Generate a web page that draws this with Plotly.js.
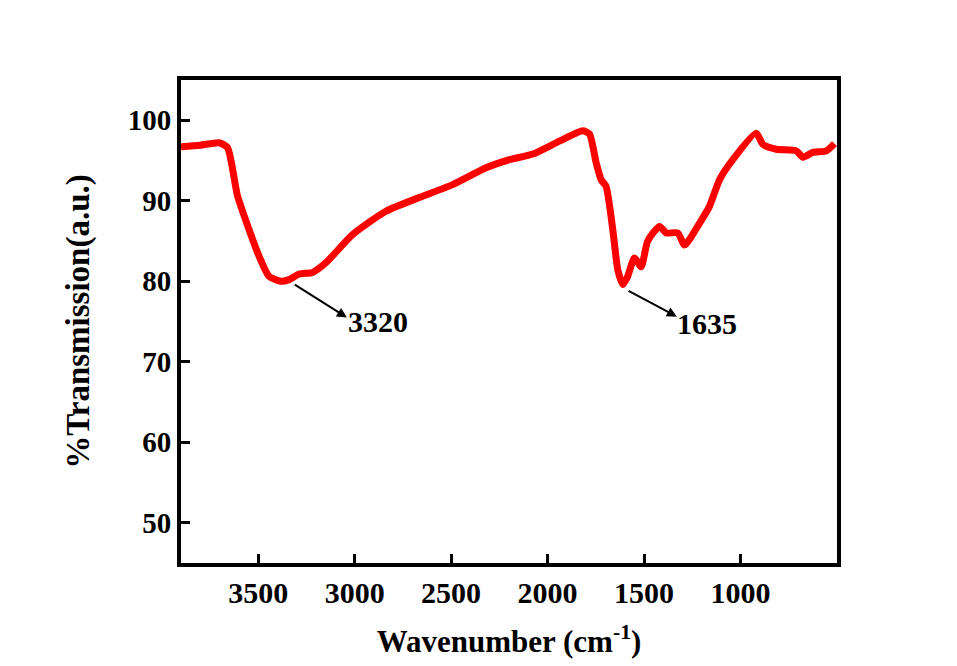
<!DOCTYPE html>
<html><head><meta charset="utf-8">
<script src="https://cdn.plot.ly/plotly-3.0.1.min.js"></script>
<style>html,body{margin:0;padding:0;background:#fff}#chart{width:957px;height:666px}</style>
</head><body><div id="chart"></div>
<script>
const wavenumber = [3900,3800,3702,3659,3607,3547,3495,3443,3382,3339,3287,3218,3149,3011,2838,2665,2492,2319,2198,2077,1939,1818,1783,1748,1722,1697,1662,1636,1610,1585,1550,1515,1481,1420,1385,1325,1290,1213,1161,1109,1040,919,884,815,711,676,625,555,513];
const transmission = [96.7,96.9,97.2,96.6,90.6,86.4,83.1,80.6,80.0,80.2,80.9,81.1,82.3,85.8,88.7,90.4,92.0,94.1,95.1,95.8,97.4,98.7,98.3,94.7,92.6,91.8,86.4,81.4,79.6,80.6,82.9,81.8,85.0,86.8,86.0,86.0,84.5,87.2,89.3,92.6,95.1,98.4,97.0,96.4,96.2,95.4,96.0,96.2,97.1];
const peakLabels = ["3320","1635"];
const peakTail = [[3318,79.7],[1588,78.9]];
const peakHead = [[3040,75.5],[1330,75.6]];
const peakText = [[2880,75.0],[1172,74.8]];
const xTicks = [3500,3000,2500,2000,1500,1000];
const yTicks = [50,60,70,80,90,100];

const font = {family:'"Liberation Serif","Times New Roman",serif', color:'#000'};
const ann = [];
peakLabels.forEach((t,i)=>{
  ann.push({x:peakHead[i][0],y:peakHead[i][1],ax:peakTail[i][0],ay:peakTail[i][1],xref:'x',yref:'y',axref:'x',ayref:'y',text:'',showarrow:true,arrowhead:2,arrowsize:1,arrowwidth:2,arrowcolor:'#000'});
  ann.push({x:peakText[i][0],y:peakText[i][1],xref:'x',yref:'y',text:'<b>'+t+'</b>',showarrow:false,font:Object.assign({size:30},font)});
});

Plotly.newPlot('chart',[{
  x:wavenumber,y:transmission,type:'scatter',mode:'lines',
  line:{color:'#ff0000',width:7,shape:'spline',smoothing:0.6},hoverinfo:'skip'
}],{
  width:957,height:666,
  margin:{l:181,r:120,t:80,b:103},
  paper_bgcolor:'#fff',plot_bgcolor:'#fff',
  showlegend:false,
  xaxis:{range:[3900,500],tickvals:xTicks,ticktext:xTicks.map(v=>'<b>'+v+'</b>'),ticks:'inside',ticklen:9,tickwidth:3,tickcolor:'#000',
    showline:true,mirror:true,linewidth:4,linecolor:'#000',showgrid:false,zeroline:false,
    tickfont:Object.assign({size:30},font),ticklabelstandoff:0,
    title:{text:'<b>Wavenumber (cm<sup>-1</sup>)</b>',font:Object.assign({size:31},font),standoff:23}},
  yaxis:{range:[45,105],tickvals:yTicks,ticktext:yTicks.map(v=>'<b>'+v+'</b>'),ticks:'inside',ticklen:9,tickwidth:3,tickcolor:'#000',
    showline:true,mirror:true,linewidth:4,linecolor:'#000',showgrid:false,zeroline:false,
    tickfont:Object.assign({size:29},font),ticklabelstandoff:0,
    title:{text:'<b>%Transmission(a.u.)</b>',font:Object.assign({size:33},font),standoff:29}},
  annotations:ann
},{staticPlot:true});
</script></body></html>
